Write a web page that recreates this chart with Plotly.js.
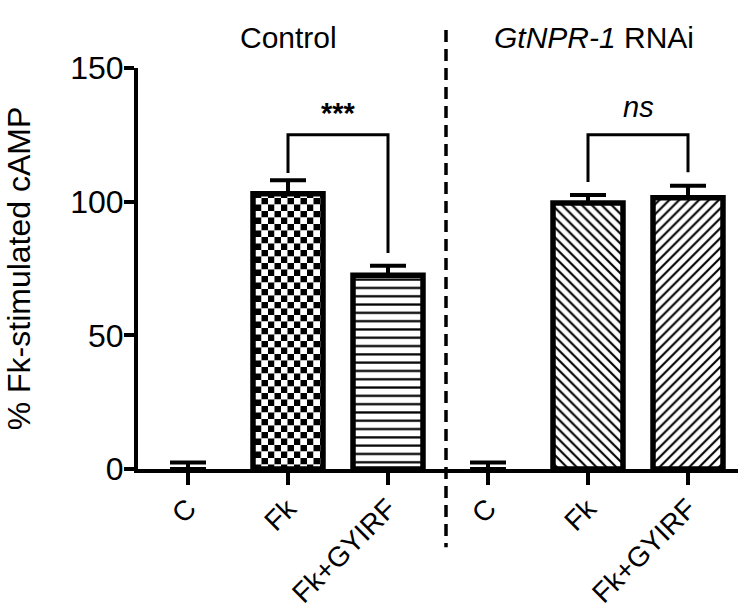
<!DOCTYPE html>
<html>
<head>
<meta charset="utf-8">
<script src="https://cdn.plot.ly/plotly-3.0.1.min.js"></script>
<style>
  html, body { margin: 0; padding: 0; background: #fff; }
  #chart { width: 747px; height: 616px; }
</style>
</head>
<body>
<div id="chart"></div>
<script>
// bar order: Control (C, Fk, Fk+GYIRF), then GtNPR-1 RNAi (C, Fk, Fk+GYIRF)
var conditions = ["C", "Fk", "Fk+GYIRF", "C", "Fk", "Fk+GYIRF"];
var positions = [0, 1, 2, 3, 4, 5];
var values = [0, 103, 72.5, 0, 99.5, 101.5];
var errors = [2.4, 5, 3.5, 2.4, 3, 4.5];
var patterns = ["", "", "-", "", "\\", "/"];
var checkerBar = 1; // Control Fk bar gets a checkerboard fill

// significance brackets (data units)
var bracketCtrlX = [1, 1, 2, 2];
var bracketCtrlY = [110.7, 125, 125, 80.8];
var bracketRnaiX = [4, 4, 5, 5];
var bracketRnaiY = [107.4, 125, 125, 111];
var sigLabels = ["<b>***</b>", "<i>ns</i>"];
var sigX = [1.5, 4.5];
var sigY = [133, 135.5];

var groupTitles = ["Control", "<i>GtNPR-1</i> RNAi"];
var groupTitleX = [1, 4.06];
var separatorX = 2.58;

var FONT = "Liberation Sans, Arial, sans-serif";

var data = [
    {
        type: "bar",
        x: positions,
        y: values,
        width: 0.7,
        marker: {
            color: "white",
            line: {
                color: "black",
                width: values.map(function (v) { return v > 0 ? 5.5 : 0; })
            },
            pattern: {
                shape: patterns,
                fgcolor: "black",
                bgcolor: "white",
                size: [8, 8, 8.3, 8, 7, 7],
                solidity: [0.3, 0.3, 0.27, 0.3, 0.3, 0.3]
            }
        },
        error_y: {
            type: "data",
            symmetric: false,
            array: errors,
            arrayminus: values.map(function () { return 0; }),
            color: "black",
            thickness: 4,
            width: 18
        },
        hoverinfo: "skip"
    },
    {
        type: "scatter",
        mode: "lines",
        x: bracketCtrlX,
        y: bracketCtrlY,
        line: { color: "black", width: 3 },
        hoverinfo: "skip"
    },
    {
        type: "scatter",
        mode: "lines",
        x: bracketRnaiX,
        y: bracketRnaiY,
        line: { color: "black", width: 3 },
        hoverinfo: "skip"
    }
];

var annotations = sigLabels.map(function (t, i) {
    return {
        x: sigX[i], y: sigY[i], xref: "x", yref: "y",
        text: t, showarrow: false,
        font: { family: FONT, size: 29, color: "black" }
    };
}).concat(groupTitles.map(function (t, i) {
    return {
        x: groupTitleX[i], y: 1.122, xref: "x", yref: "paper",
        text: t, showarrow: false,
        font: { family: FONT, size: 30, color: "black" }
    };
}));

var layout = {
    width: 747,
    height: 616,
    margin: { l: 138, r: 9, t: 68, b: 147 },
    paper_bgcolor: "white",
    plot_bgcolor: "white",
    showlegend: false,
    font: { family: FONT, color: "black" },
    xaxis: {
        range: [-0.5, 5.5],
        tickvals: positions,
        ticktext: conditions,
        tickangle: -45,
        ticks: "outside",
        ticklen: 12,
        tickwidth: 4,
        tickcolor: "black",
        ticklabelstandoff: -4,
        showline: true,
        linewidth: 4,
        linecolor: "black",
        showgrid: false,
        zeroline: false,
        tickfont: { family: FONT, size: 28, color: "black" }
    },
    yaxis: {
        range: [0, 150],
        tickvals: [0, 50, 100, 150],
        ticks: "outside",
        ticklen: 10,
        tickwidth: 4,
        tickcolor: "black",
        ticklabelstandoff: -6,
        showline: true,
        linewidth: 4,
        linecolor: "black",
        showgrid: false,
        zeroline: false,
        tickfont: { family: FONT, size: 32, color: "black" },
        title: {
            text: "% Fk-stimulated cAMP",
            font: { family: FONT, size: 32, color: "black" },
            standoff: 31
        }
    },
    shapes: [
        {
            type: "line",
            xref: "x", yref: "paper",
            x0: separatorX, x1: separatorX,
            y0: 1.095, y1: -0.195,
            line: { color: "black", width: 3.5, dash: "12px,7px" }
        }
    ],
    annotations: annotations
};

Plotly.newPlot("chart", data, layout, { staticPlot: true }).then(function (gd) {
    // plotly has no checkerboard pattern, so add one to the svg defs
    var ns = "http://www.w3.org/2000/svg";
    var svg = gd.querySelector("svg.main-svg");
    var defs = svg.querySelector("defs") || svg.insertBefore(document.createElementNS(ns, "defs"), svg.firstChild);
    var pat = document.createElementNS(ns, "pattern");
    pat.setAttribute("id", "checker");
    pat.setAttribute("patternUnits", "userSpaceOnUse");
    pat.setAttribute("width", 13);
    pat.setAttribute("height", 13);
    [[0, 0, "white"], [6.5, 0, "black"], [0, 6.5, "black"], [6.5, 6.5, "white"]].forEach(function (c) {
        var r = document.createElementNS(ns, "rect");
        r.setAttribute("x", c[0]);
        r.setAttribute("y", c[1]);
        r.setAttribute("width", 6.5);
        r.setAttribute("height", 6.5);
        r.setAttribute("fill", c[2]);
        pat.appendChild(r);
    });
    defs.appendChild(pat);
    var paths = gd.querySelectorAll(".barlayer .point path");
    if (paths[checkerBar]) {
        paths[checkerBar].style.fill = "url(#checker)";
    }
});
</script>
</body>
</html>
